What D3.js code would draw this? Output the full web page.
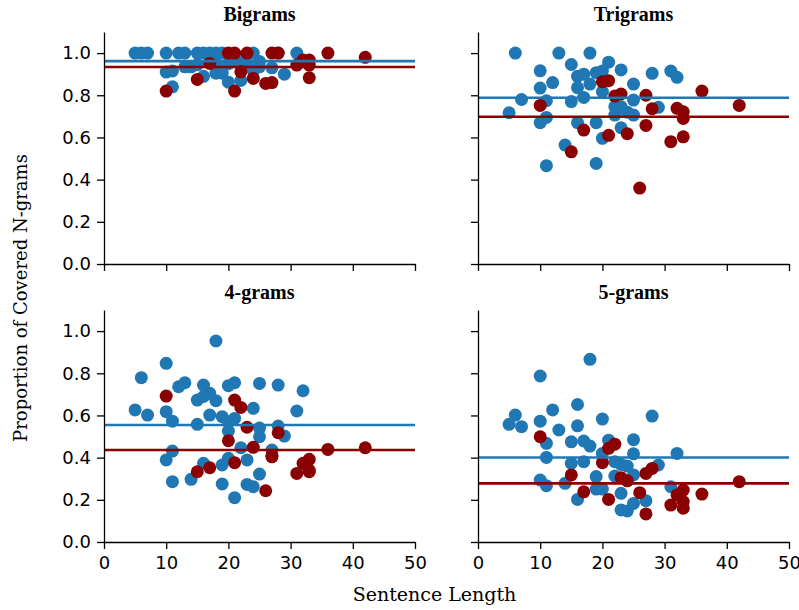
<!DOCTYPE html>
<html>
<head>
<meta charset="utf-8">
<script src="https://cdn.jsdelivr.net/npm/d3@7"></script>
<style>
  body { margin: 0; background: #fff; }
  svg { display: block; }
</style>
</head>
<body>
<div id="chart"></div>
<script>
// panel titles
const titles = ["Bigrams", "Trigrams", "4-grams", "5-grams"];

// [sentence length, proportion]
const bigramsBlue = [[5,1.0],[6,1.0],[7,1.0],[10,1.0],[12,1.0],[13,1.0],[15,1.0],[16,1.0],[17,1.0],[18,1.0],[19,1.0],[24,1.0],[28,1.0],[31,1.0],
  [10,0.91],[11,0.915],[11,0.84],[13,0.935],[14,0.935],[15,0.945],[16,0.89],[17,0.96],[18,0.905],[18,0.95],[19,0.905],[20,0.862],[20,0.95],
  [21,0.965],[22,0.87],[22,0.965],[23,0.95],[24,0.915],[25,0.935],[25,0.96],[27,0.93],[29,0.90]];
const bigramsRed = [[10,0.82],[15,0.875],[17,0.951],[20,1.0],[21,1.0],[21,0.82],[22,0.911],[23,1.0],[24,0.88],[26,0.856],[27,1.0],[27,0.86],
  [28,1.0],[31,0.943],[32,0.967],[33,0.967],[33,0.943],[33,0.883],[36,1.0],[42,0.98]];

const trigramsBlue = [[6,1.0],[13,1.0],[18,1.0],[15,0.946],[21,0.957],[10,0.916],[23,0.92],[16,0.89],[17,0.90],[19,0.907],[20,0.915],[12,0.86],
  [10,0.834],[16,0.836],[18,0.853],[25,0.853],[20,0.817],[17,0.79],[7,0.78],[11,0.774],[15,0.77],[25,0.777],[5,0.717],[22,0.746],[23,0.746],
  [22,0.706],[24,0.72],[25,0.706],[10,0.67],[11,0.695],[16,0.67],[19,0.67],[23,0.646],[20,0.596],[14,0.564],[11,0.466],[19,0.477],[28,0.904],
  [31,0.915],[32,0.885],[29,0.743],[23,0.738]];
const trigramsRed = [[10,0.752],[15,0.532],[17,0.635],[20,0.864],[21,0.869],[21,0.61],[22,0.796],[23,0.806],[24,0.618],[26,0.36],[27,0.80],
  [27,0.657],[28,0.736],[31,0.58],[32,0.738],[33,0.722],[33,0.69],[33,0.603],[36,0.82],[42,0.752]];

const fourgramsBlue = [[18,0.953],[10,0.847],[6,0.779],[12,0.736],[13,0.755],[16,0.744],[20,0.741],[21,0.755],[25,0.752],[17,0.705],[15,0.673],
  [16,0.69],[18,0.67],[24,0.634],[5,0.626],[7,0.602],[10,0.618],[11,0.573],[15,0.558],[17,0.602],[19,0.594],[20,0.57],[21,0.586],[20,0.526],
  [25,0.54],[25,0.499],[22,0.447],[11,0.431],[10,0.389],[16,0.373],[19,0.365],[20,0.397],[23,0.389],[25,0.322],[11,0.286],[14,0.297],
  [19,0.275],[23,0.273],[24,0.262],[21,0.21],[28,0.744],[32,0.717],[31,0.621],[28,0.55],[29,0.502],[27,0.436]];
const fourgramsRed = [[10,0.692],[15,0.333],[17,0.352],[20,0.48],[21,0.673],[21,0.376],[22,0.638],[23,0.544],[24,0.449],[26,0.243],[27,0.404],
  [27,0.41],[28,0.518],[31,0.325],[32,0.373],[33,0.392],[33,0.333],[33,0.34],[36,0.439],[42,0.447]];

const fivegramsBlue = [[18,0.866],[10,0.787],[6,0.602],[5,0.558],[7,0.547],[12,0.626],[16,0.652],[10,0.573],[13,0.531],[16,0.551],[20,0.583],
  [11,0.468],[15,0.475],[17,0.479],[18,0.455],[21,0.483],[25,0.485],[11,0.401],[20,0.42],[25,0.418],[15,0.373],[17,0.381],[22,0.381],
  [23,0.368],[24,0.36],[10,0.294],[11,0.267],[14,0.278],[19,0.31],[22,0.313],[19,0.251],[20,0.251],[23,0.231],[16,0.202],[23,0.152],
  [24,0.147],[25,0.183],[28,0.597],[32,0.42],[29,0.365],[25,0.318],[31,0.262],[27,0.196]];
const fivegramsRed = [[10,0.499],[15,0.318],[17,0.238],[20,0.376],[21,0.444],[21,0.202],[22,0.464],[23,0.305],[24,0.29],[26,0.234],[27,0.325],
  [27,0.133],[28,0.349],[31,0.175],[32,0.223],[33,0.246],[33,0.191],[33,0.16],[36,0.227],[42,0.286]];

// horizontal reference lines
const meanBlue = [0.962, 0.788, 0.555, 0.401];
const meanRed = [0.934, 0.698, 0.436, 0.278];

const xTicks = [0, 10, 20, 30, 40, 50];
const yTicks = [0, 0.2, 0.4, 0.6, 0.8, 1.0];

const blueSets = [bigramsBlue, trigramsBlue, fourgramsBlue, fivegramsBlue];
const redSets = [bigramsRed, trigramsRed, fourgramsRed, fivegramsRed];

const width = 799, height = 610;
const BLUE = "#1f77b4", RED = "#8b0000";

const svg = d3.select("#chart").append("svg")
  .attr("width", width)
  .attr("height", height);

// panel boxes: left/right columns, top/bottom rows
const cols = [[104, 415], [478, 789]];
const rows = [[32, 264], [310, 542]];

titles.forEach((title, i) => {
  const c = i % 2, r = Math.floor(i / 2);
  const x = d3.scaleLinear().domain([0, 50]).range(cols[c]);
  const y = d3.scaleLinear().domain([0, 1.1]).range([rows[r][1], rows[r][0]]);

  const g = svg.append("g");

  // points: blue group first, dark red on top
  g.append("g").selectAll("circle")
    .data(blueSets[i])
    .join("circle")
    .attr("cx", d => x(d[0]))
    .attr("cy", d => y(d[1]))
    .attr("r", 6.5)
    .attr("fill", BLUE);

  g.append("g").selectAll("circle")
    .data(redSets[i])
    .join("circle")
    .attr("cx", d => x(d[0]))
    .attr("cy", d => y(d[1]))
    .attr("r", 6.5)
    .attr("fill", RED);

  // mean lines
  [[meanBlue[i], BLUE], [meanRed[i], RED]].forEach(([v, col]) => {
    g.append("line")
      .attr("x1", x(0)).attr("x2", x(50))
      .attr("y1", y(v)).attr("y2", y(v))
      .attr("stroke", col)
      .attr("stroke-width", 2.6);
  });

  // axes
  const xAxis = d3.axisBottom(x).tickValues(xTicks).tickSize(7).tickSizeOuter(0).tickPadding(7)
    .tickFormat(r === 1 ? d3.format("d") : () => "");
  const yAxis = d3.axisLeft(y).tickValues(yTicks).tickSize(7).tickSizeOuter(0).tickPadding(6)
    .tickFormat(c === 0 ? d3.format(".1f") : () => "");

  const gx = g.append("g")
    .attr("transform", `translate(0,${rows[r][1]})`)
    .call(xAxis);
  const gy = g.append("g")
    .attr("transform", `translate(${cols[c][0]},0)`)
    .call(yAxis);

  [gx, gy].forEach(ax => {
    ax.selectAll("path, line").attr("stroke", "#000").attr("stroke-width", 1.3);
    ax.selectAll("text")
      .attr("fill", "#000")
      .style("font-family", "DejaVu Sans")
      .style("font-size", "18px");
  });

  // title
  svg.append("text")
    .attr("x", (cols[c][0] + cols[c][1]) / 2)
    .attr("y", rows[r][0] - 11)
    .attr("text-anchor", "middle")
    .style("font-family", "Liberation Serif")
    .style("font-weight", "bold")
    .style("font-size", "20px")
    .text(title);
});

// shared axis labels
svg.append("text")
  .attr("x", 434.5)
  .attr("y", 601)
  .attr("text-anchor", "middle")
  .style("font-family", "DejaVu Serif")
  .style("font-size", "19px")
  .text("Sentence Length");

svg.append("text")
  .attr("transform", "translate(27,298) rotate(-90)")
  .attr("text-anchor", "middle")
  .style("font-family", "DejaVu Serif")
  .style("font-size", "18px")
  .text("Proportion of Covered N-grams");
</script>
</body>
</html>
